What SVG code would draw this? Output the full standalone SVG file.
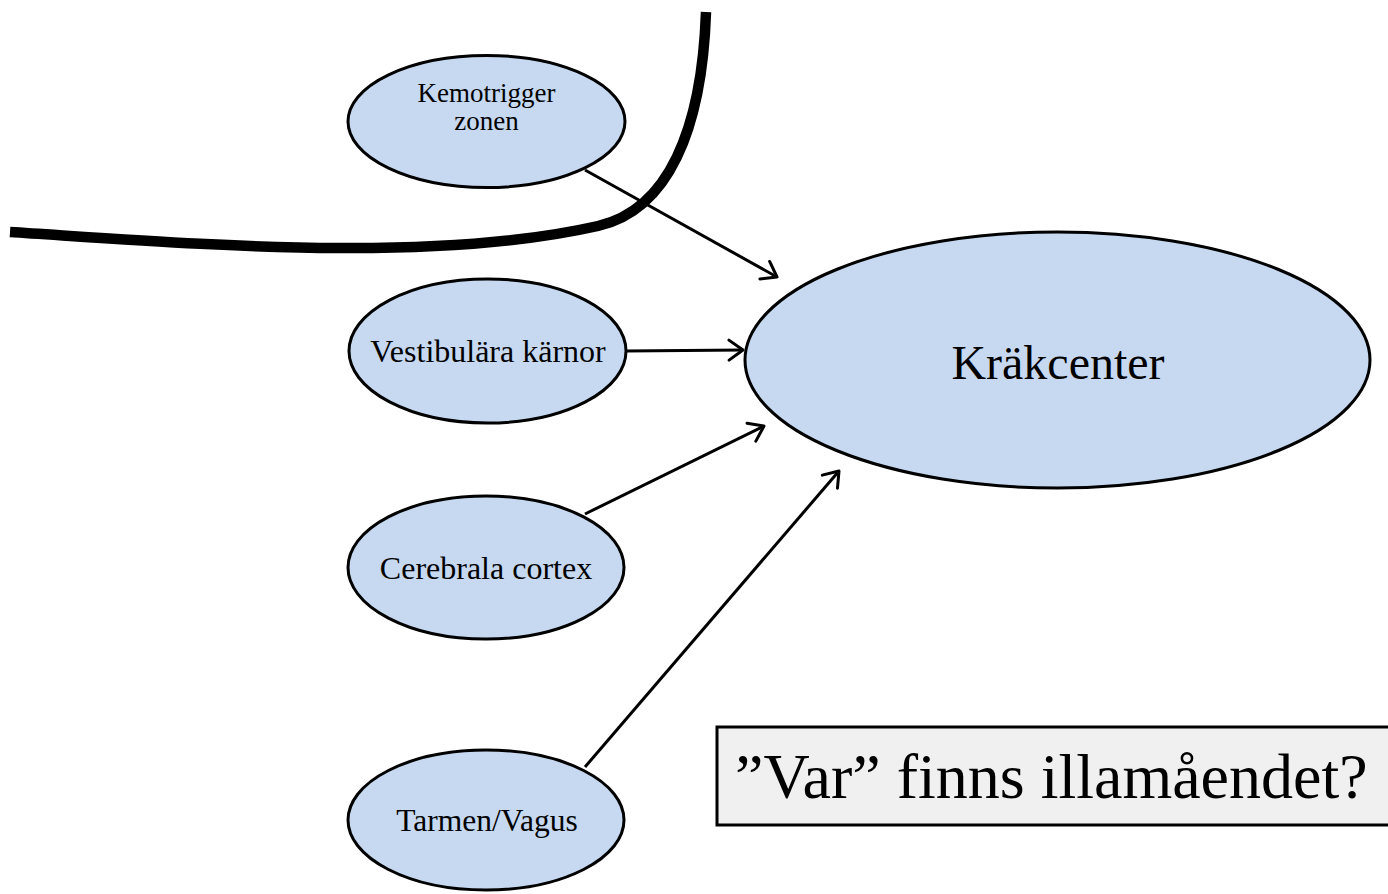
<svg xmlns="http://www.w3.org/2000/svg" width="1388" height="894" viewBox="0 0 1388 894">
<style>
.node{fill:#c6d9f1;stroke:#000;stroke-width:3}
.t{font-family:"Liberation Serif","Times New Roman",serif;fill:#000;text-anchor:middle}
.conn{stroke:#000;stroke-width:3;fill:none;marker-end:url(#arr)}
</style>
<defs>
<marker id="arr" markerUnits="userSpaceOnUse" markerWidth="30" markerHeight="30" refX="22" refY="12" orient="auto" viewBox="0 0 30 24">
<path d="M8,2 L22,12 L8,22" fill="none" stroke="#000" stroke-width="3" stroke-linecap="round" stroke-linejoin="round"/>
</marker>
</defs>
<rect width="1388" height="894" fill="#fff"/>
<path d="M10,232 C200,244 430,264 598,226 C668,210 702,130 706,12" fill="none" stroke="#000" stroke-width="10.5"/>
<g id="connectors">
<line class="conn" x1="585" y1="170" x2="777" y2="277"/>
<line class="conn" x1="626" y1="351" x2="743" y2="350"/>
<line class="conn" x1="585" y1="514" x2="764" y2="426"/>
<line class="conn" x1="585" y1="767" x2="839" y2="471"/>
</g>
<g id="kemotrigger">
<ellipse class="node" cx="486.5" cy="121.5" rx="138.5" ry="66"/>
<text class="t" x="486.5" y="102" font-size="27">Kemotrigger</text>
<text class="t" x="486.5" y="130" font-size="27">zonen</text>
</g>
<g id="vestibulara">
<ellipse class="node" cx="487.5" cy="351" rx="138.5" ry="72"/>
<text class="t" x="488" y="362" font-size="32">Vestibulära kärnor</text>
</g>
<g id="cerebrala">
<ellipse class="node" cx="486" cy="567.5" rx="138" ry="71.5"/>
<text class="t" x="486" y="579" font-size="32">Cerebrala cortex</text>
</g>
<g id="tarmen">
<ellipse class="node" cx="486" cy="820" rx="138" ry="70"/>
<text class="t" x="487" y="831" font-size="31.5">Tarmen/Vagus</text>
</g>
<g id="krakcenter">
<ellipse class="node" cx="1057.5" cy="360" rx="312.5" ry="128"/>
<text class="t" x="1058" y="379" font-size="48">Kräkcenter</text>
</g>
<g id="question">
<rect x="717" y="727" width="680" height="98" fill="#f0f0f0" stroke="#000" stroke-width="3"/>
<text x="735" y="798" font-size="64" font-family="Liberation Serif,Times New Roman,serif" fill="#000">”Var” finns illamåendet?</text>
</g>
</svg>
